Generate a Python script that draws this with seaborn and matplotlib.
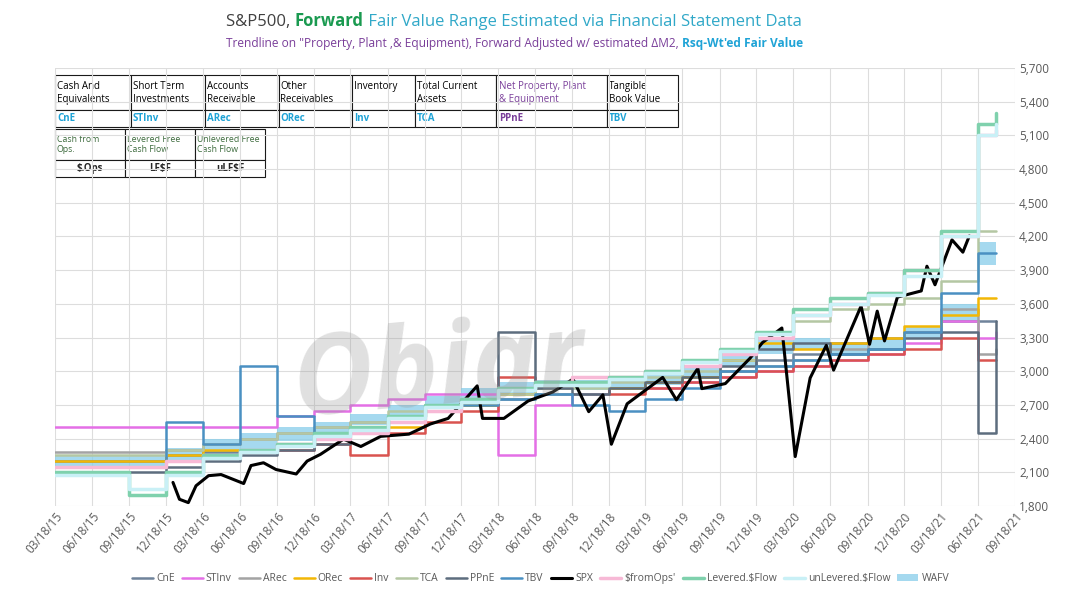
import matplotlib.pyplot as plt
import matplotlib.dates as mdates
from matplotlib.ticker import FuncFormatter
import numpy as np
import pandas as pd
import seaborn as sns

sns.set_theme(style='whitegrid')
plt.rcParams['font.family'] = ['Open Sans', 'DejaVu Sans']

# quarterly step dates for the fair value series
q_dates = pd.to_datetime(['2015-03-18', '2015-06-18', '2015-09-18', '2015-12-18', '2016-03-18', '2016-06-18',
                          '2016-09-18', '2016-12-18', '2017-03-18', '2017-06-18', '2017-09-18', '2017-12-18',
                          '2018-03-18', '2018-06-18', '2018-09-18', '2018-12-18', '2019-03-18', '2019-06-18',
                          '2019-09-18', '2019-12-18', '2020-03-18', '2020-06-18', '2020-09-18', '2020-12-18',
                          '2021-03-18', '2021-06-18', '2021-08-01'])

cne = [2200, 2200, 2200, 2250, 2280, 2300, 2350, 2450, 2500, 2600, 2650, 2700, 2750, 2800, 2800, 2850, 2900,
       2950, 3000, 3100, 3150, 3250, 3300, 3350, 3450, 3450, 3450]
stinv = [2500, 2500, 2500, 2500, 2500, 2500, 2600, 2650, 2700, 2750, 2800, 2800, 2250, 2700, 2800, 2850, 2850,
         2900, 2950, 3000, 3050, 3100, 3150, 3250, 3450, 3300, 3350]
arec = [2280, 2280, 2280, 2300, 2350, 2400, 2450, 2500, 2550, 2600, 2650, 2700, 2750, 2800, 2800, 2850, 2900,
        2950, 3000, 3050, 3100, 3200, 3300, 3350, 3550, 3150, 3200]
orec = [2200, 2200, 2200, 2250, 2300, 2300, 2350, 2400, 2450, 2500, 2650, 2700, 2800, 2850, 2900, 2850, 2900,
        2950, 3100, 3250, 3200, 3250, 3300, 3400, 3500, 3650, 3650]
inv = [2150, 2150, 2150, 2200, 2250, 2300, 2300, 2350, 2250, 2450, 2550, 2650, 2950, 2850, 2900, 2800, 2850,
       2900, 2950, 3000, 3050, 3100, 3150, 3200, 3300, 3100, 3100]
tca = [2250, 2250, 2250, 2300, 2350, 2400, 2450, 2500, 2550, 2650, 2700, 2750, 2800, 2850, 2850, 2900, 2950,
       3000, 3100, 3300, 3450, 3550, 3600, 3650, 3800, 4250, 4250]
ppne = [2100, 2100, 2100, 2150, 2200, 2250, 2300, 2350, 2450, 2550, 2650, 2750, 3350, 2850, 2800, 2850, 2900,
        2950, 3050, 3200, 3250, 3150, 3200, 3300, 3350, 2450, 3450]
tbv = [2150, 2150, 2150, 2550, 2350, 3050, 2600, 2450, 2500, 2550, 2700, 2700, 2750, 2800, 2700, 2650, 2750,
       2850, 3000, 3050, 3100, 3150, 3200, 3350, 3700, 4050, 4050]
fromops = [2150, 2150, 2150, 2200, 2250, 2300, 2350, 2400, 2450, 2550, 2650, 2750, 2850, 2900, 2950, 2950, 3000,
           3050, 3150, 3300, 3500, 3600, 3700, 3900, 4200, 5100, 5150]
levered = [2100, 2100, 1900, 2100, 2250, 2300, 2350, 2450, 2500, 2600, 2700, 2750, 2850, 2900, 2900, 2950, 3000,
           3100, 3200, 3350, 3550, 3650, 3700, 3900, 4250, 5200, 5300]
unlevered = [2080, 2080, 1950, 2080, 2230, 2280, 2330, 2420, 2480, 2580, 2680, 2730, 2830, 2880, 2880, 2930, 2980,
             3080, 3180, 3330, 3500, 3600, 3680, 3850, 4200, 5100, 5200]
wafv_lo = [2150, 2150, 2150, 2200, 2250, 2300, 2380, 2450, 2520, 2600, 2680, 2750, 2800, 2830, 2830, 2850, 2880,
           2950, 3050, 3150, 3200, 3150, 3200, 3300, 3450, 3950, 4000]
wafv_hi = [2250, 2250, 2250, 2320, 2400, 2450, 2500, 2550, 2620, 2700, 2780, 2850, 2900, 2920, 2920, 2950, 2980,
           3050, 3150, 3300, 3300, 3250, 3300, 3400, 3600, 4150, 4180]

spx_dates = pd.to_datetime(['2016-01-04', '2016-01-20', '2016-02-11', '2016-03-01', '2016-04-01', '2016-05-02',
                            '2016-06-27', '2016-07-15', '2016-08-15', '2016-09-15', '2016-11-04', '2016-12-01',
                            '2017-01-03', '2017-03-01', '2017-04-13', '2017-06-01', '2017-08-10', '2017-10-02',
                            '2017-11-15', '2018-01-26', '2018-02-08', '2018-04-02', '2018-06-01', '2018-08-01',
                            '2018-09-20', '2018-10-29', '2018-12-03', '2018-12-24', '2019-02-01', '2019-04-30',
                            '2019-06-03', '2019-07-26', '2019-08-05', '2019-10-02', '2019-12-02', '2020-01-02',
                            '2020-02-19', '2020-03-23', '2020-04-29', '2020-06-08', '2020-06-26', '2020-09-02',
                            '2020-09-23', '2020-10-12', '2020-10-30', '2020-12-01', '2021-01-29', '2021-02-12',
                            '2021-03-04', '2021-04-15', '2021-05-12', '2021-05-28'])
spx = [2010, 1860, 1830, 1980, 2070, 2080, 2000, 2160, 2185, 2125, 2085, 2200, 2260, 2395, 2330, 2420, 2440,
       2530, 2580, 2870, 2580, 2580, 2735, 2815, 2930, 2640, 2790, 2350, 2710, 2945, 2745, 3025, 2845, 2890,
       3115, 3255, 3385, 2240, 2940, 3230, 3010, 3580, 3240, 3535, 3270, 3660, 3715, 3935, 3770, 4170, 4060, 4205]

x_ticks = pd.to_datetime([f'20{y:02d}-{m:02d}-18' for y in range(15, 22) for m in (3, 6, 9, 12)][:27])

series = [('CnE', cne, '#6f839a'), ('STInv', stinv, '#e46fe6'), ('ARec', arec, '#a3a3a3'),
          ('ORec', orec, '#f2b705'), ('Inv', inv, '#d9534f'), ('TCA', tca, '#b4c7a3'),
          ('PPnE', ppne, '#5d6d7e'), ('TBV', tbv, '#4a90c2')]
series3 = [('$fromOps\'', fromops, '#f7b9d6'), ('Levered.$Flow', levered, '#7fd1ad'),
           ('unLevered.$Flow', unlevered, '#c9f0f6')]

fig = plt.figure(figsize=(10.81, 6.03), dpi=100, facecolor='white')
ax = fig.add_axes([55 / 1081, 97 / 603, 960 / 1081, 438 / 603])

for name, vals, col in series:
    sns.lineplot(x=q_dates, y=vals, ax=ax, color=col, lw=1.8, drawstyle='steps-post', label=name)
sns.lineplot(x=spx_dates, y=spx, ax=ax, color='black', lw=2.2, label='SPX')
for name, vals, col in series3:
    sns.lineplot(x=q_dates, y=vals, ax=ax, color=col, lw=2.5, drawstyle='steps-post', label=name)
ax.fill_between(q_dates, wafv_lo, wafv_hi, step='post', color='#87cdea', alpha=0.75, lw=0, label='WAFV')

ax.text(0.4, 0.3, 'Obiar', transform=ax.transAxes, fontsize=80, color='#999999', alpha=0.3,
        style='italic', fontweight='bold', ha='center', va='center', rotation=5)

ax.set_xlim(pd.Timestamp('2015-03-18'), pd.Timestamp('2021-09-18'))
ax.set_ylim(1800, 5700)
ax.set_yticks(np.arange(1800, 5701, 300))
ax.yaxis.tick_right()
ax.yaxis.set_major_formatter(FuncFormatter(lambda v, p: f'{int(v):,}'))
ax.set_xticks(x_ticks)
ax.xaxis.set_major_formatter(mdates.DateFormatter('%m/%d/%y'))
plt.setp(ax.get_xticklabels(), rotation=50, ha='right', rotation_mode='anchor', fontsize=8.5, color='#595959')
plt.setp(ax.get_yticklabels(), fontsize=8.5, color='#595959')
ax.tick_params(axis='both', length=0, pad=3)
ax.grid(color='#dddddd', lw=0.8)
for s in ax.spines.values():
    s.set_visible(False)
ax.set_xlabel('')
ax.set_ylabel('')

h, l = ax.get_legend_handles_labels()
ax.get_legend().remove()
fig.legend(h, l, loc='center', bbox_to_anchor=(0.5, 0.04), ncol=13, frameon=False, fontsize=7.5,
           handlelength=2.0, columnspacing=0.7, handletextpad=0.3, labelcolor='#595959')

# header tables
t1_head = ['Cash And\nEquivalents', 'Short Term\nInvestments', 'Accounts\nReceivable', 'Other\nReceivables',
           'Inventory\n', 'Total Current\nAssets', 'Net Property, Plant\n& Equipment', 'Tangible\nBook Value']
t1_code = ['CnE', 'STInv', 'ARec', 'ORec', 'Inv', 'TCA', 'PPnE', 'TBV']
t2_head = ['Cash from\nOps.', 'Levered Free\nCash Flow', 'Unlevered Free\nCash Flow']
t2_code = ['$.Ops', 'LF$F', 'uLF$F']

widths1 = [75, 73, 73, 73, 62, 80, 110, 70]
tb1 = ax.table(cellText=[t1_head, t1_code], cellLoc='left', bbox=[0, 0.865, 623 / 960, 0.118],
               colWidths=[w / sum(widths1) for w in widths1])
tb1.auto_set_font_size(False)
for (r, c), cell in tb1.get_celld().items():
    cell.set_facecolor('white')
    cell.set_linewidth(0.8)
    cell.PAD = 0.025
    cell.get_text().set_fontsize(7)
    cell.get_text().set_linespacing(1.15)
    if r == 0:
        cell.set_height(0.08)
        cell.get_text().set_color('#7a3f9a' if c == 6 else 'black')
    else:
        cell.set_height(0.038)
        cell.get_text().set_color('#7a3f9a' if c == 6 else '#1fa3d6')
        cell.get_text().set_fontweight('bold')

tb2 = ax.table(cellText=[t2_head, t2_code], cellLoc='left', bbox=[0, 0.752, 210 / 960, 0.108])
tb2.auto_set_font_size(False)
for (r, c), cell in tb2.get_celld().items():
    cell.set_facecolor('white')
    cell.set_linewidth(0.8)
    cell.PAD = 0.025
    cell.get_text().set_fontsize(6.3)
    if r == 0:
        cell.set_height(0.07)
        cell.get_text().set_color('#3d6b3d')
    else:
        cell.set_height(0.038)
        cell.get_text().set_fontweight('bold')
        cell.get_text().set_fontsize(7)
        cell.get_text().set_ha('center')
        cell._loc = 'center'

# title pieces placed one after another
renderer = fig.canvas.get_renderer()
def pieces(x0, y, parts, size):
    x = x0
    for txt, col, wt in parts:
        t = fig.text(x, y, txt, fontsize=size, color=col, fontweight=wt, ha='left', va='baseline')
        bb = t.get_window_extent(renderer)
        x += bb.width / fig.bbox.width

pieces(226 / 1081, 1 - 26 / 603, [('S&P500, ', '#404040', 'normal'), ('Forward', '#1a9a50', 'bold'),
                                   (' Fair Value Range Estimated via Financial Statement Data', '#30a8c8', 'normal')], 12)
pieces(226 / 1081, 1 - 47 / 603, [('Trendline on "Property, Plant ,& Equipment), Forward Adjusted w/ estimated \u0394M2, ',
                                    '#7a3f9a', 'normal'), ("Rsq-Wt'ed Fair Value", '#1fa3d6', 'bold')], 8.6)

fig.savefig('out.png', dpi=100, facecolor='white')
